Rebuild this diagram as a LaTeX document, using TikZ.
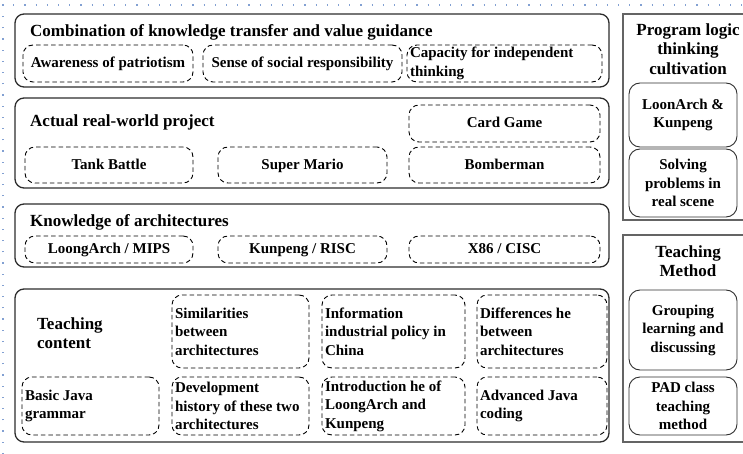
\documentclass[tikz,border=0pt]{standalone}
\usepackage{fontspec}
\setmainfont{Liberation Serif}
\definecolor{pcol}{RGB}{45,45,45}
\definecolor{scol}{RGB}{100,100,100}
\definecolor{gcol}{RGB}{130,160,210}
\tikzset{every picture/.style={x=1pt,y=-1pt}}
\tikzset{panel/.style={draw=pcol,line width=1.3pt,rounded corners=9pt,inner sep=0pt}}
\tikzset{item/.style={draw=black,dash pattern=on 4.5pt off 3pt,line width=.9pt,rounded corners=10pt,inner xsep=3pt,inner ysep=0pt,align=center,text height=11.5pt,text depth=3pt,font=\fontsize{15}{18.5}\selectfont\bfseries}}
\tikzset{leftitem/.style={draw=black,dash pattern=on 4.5pt off 3pt,line width=.9pt,rounded corners=10pt,inner xsep=3pt,inner ysep=0pt,align=flush left,font=\fontsize{15}{18.5}\selectfont\bfseries}}
\tikzset{sideframe/.style={draw=scol,line width=1.3pt,inner sep=0pt}}
\tikzset{subbox/.style={draw=pcol,line width=.9pt,rounded corners=11pt,inner sep=0pt,align=center,font=\fontsize{15}{18.5}\selectfont\bfseries}}
\tikzset{heading/.style={inner sep=0pt,font=\fontsize{17}{19.5}\selectfont\bfseries}}
\tikzset{guide/.style={gcol,line width=1.2pt,dash pattern=on 1.2pt off 10pt}}

\begin{document}
\begin{tikzpicture}
\useasboundingbox (0,0) rectangle (743,454);
\coordinate (g0) at (3,5);
\coordinate (g1) at (743,5);
\coordinate (g2) at (3,454);
\draw [guide] (g2) -- (g0) -- (g1);

\node [panel,minimum width=594,minimum height=73] (p1) at (312,50.5) {};
\node [panel,minimum width=594,minimum height=90] (p2) at (312,143) {};
\node [panel,minimum width=594,minimum height=63] (p3) at (312,235.5) {};
\node [panel,minimum width=594,minimum height=153] (p4) at (312,365.5) {};

\node [heading,anchor=west] (t1) at (30,32) {Combination of knowledge transfer and value guidance};
\node [heading,anchor=west] (t2) at (30,122) {Actual real-world project};
\node [heading,anchor=west] (t3) at (30,222) {Knowledge of architectures};
\node [heading,anchor=west,align=left] (t4) at (37,333) {Teaching\\content};

\node [item,minimum width=170,minimum height=37] (a1) at (108,63.5) {Awareness of patriotism};
\node [item,minimum width=199,minimum height=37] (a2) at (302.5,63.5) {Sense of social responsibility};
\node [leftitem,text width=189,minimum height=37] (a3) at (504.5,63.5) {Capacity for independent\\thinking};

\node [item,minimum width=191,minimum height=37] (b1) at (504.5,123.5) {Card Game};
\node [item,minimum width=168,minimum height=36] (b2) at (109,165) {Tank Battle};
\node [item,minimum width=169,minimum height=36] (b3) at (302.5,165) {Super Mario};
\node [item,minimum width=191,minimum height=36] (b4) at (504.5,165) {Bomberman};

\node [item,minimum width=168,minimum height=27] (c1) at (109,249.5) {LoongArch / MIPS};
\node [item,minimum width=169,minimum height=27] (c2) at (302.5,249.5) {Kunpeng / RISC};
\node [item,minimum width=191,minimum height=27] (c3) at (504.5,249.5) {X86 / CISC};

\node [leftitem,text width=131,minimum height=73] (d1) at (240.5,331.5) {Similarities\\between\\architectures};
\node [leftitem,text width=137,minimum height=73] (d2) at (393.5,331.5) {Information\\industrial policy in\\China};
\node [leftitem,text width=124,minimum height=73] (d3) at (542,331.5) {Differences he\\between\\architectures};
\node [leftitem,text width=131,minimum height=58] (d4) at (90.5,406) {Basic Java\\grammar};
\node [leftitem,text width=131,minimum height=58] (d5) at (240.5,406) {Development\\history of these two\\architectures};
\node [leftitem,text width=137,minimum height=58] (d6) at (393.5,406) {Introduction he of\\LoongArch and\\Kunpeng};
\node [leftitem,text width=124,minimum height=58] (d7) at (542,406) {Advanced Java\\coding};

\node [sideframe,minimum width=130,minimum height=206] (r1) at (688,117) {};
\node [heading,align=center] (t5) at (688,49) {Program logic\\thinking\\cultivation};
\node [subbox,minimum width=108,minimum height=64] (e1) at (683,115) {LoonArch \&\\Kunpeng};
\node [subbox,minimum width=108,minimum height=68] (e2) at (683,183) {Solving\\problems in\\real scene};

\node [sideframe,minimum width=130,minimum height=207] (r2) at (688,338.5) {};
\node [heading,align=center] (t6) at (688,261) {Teaching\\Method};
\node [subbox,minimum width=108,minimum height=80] (f1) at (683,330) {Grouping\\learning and\\discussing};
\node [subbox,minimum width=108,minimum height=58] (f2) at (683,406) {PAD class\\teaching\\method};
\end{tikzpicture}
\end{document}
